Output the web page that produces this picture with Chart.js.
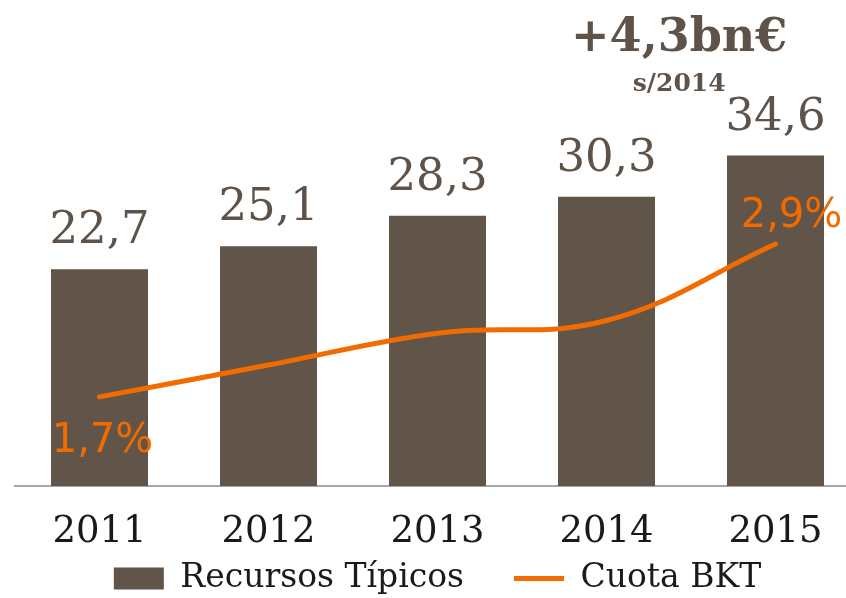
<!DOCTYPE html>
<html>
<head>
<meta charset="utf-8">
<script src="https://cdn.jsdelivr.net/npm/chart.js@4"></script>
<style>
  html, body { margin: 0; padding: 0; background: #fff; overflow: hidden; }
  #wrap { position: absolute; left: 0; top: 0; width: 875px; height: 605px; }
</style>
</head>
<body>
<div id="wrap"><canvas id="chart"></canvas></div>
<script>
// Dados do gráfico
const years = ['2011', '2012', '2013', '2014', '2015'];
const recursos = [22.7, 25.1, 28.3, 30.3, 34.6];   // bn€
const cuota = [1.7, 1.95, 2.2, 2.3, 2.9];         // %
const headline = '+4,3bn€';
const subline = 's/2014';

const brown = '#615449';
const orange = '#f26b00';

function fmt(v) {
    return v.toFixed(1).replace('.', ',');
}

// O eixo x fica baixo para a legenda caber; libera a área dos rótulos
const axisRoom = {
    id: 'axisRoom',
    afterLayout(chart) {
        chart.scales.x.bottom = chart.height;
        chart.scales.x._labelItems = null;
    }
};

// Rótulos dos valores e o destaque no topo
const labelsPlugin = {
    id: 'valueLabels',
    afterDatasetsDraw(chart) {
        const ctx = chart.ctx;
        ctx.save();

        // Barras
        ctx.font = '45px "DejaVu Serif"';
        ctx.fillStyle = '#5f5349';
        ctx.textAlign = 'center';
        ctx.textBaseline = 'alphabetic';
        chart.getDatasetMeta(0).data.forEach((bar, i) => {
            ctx.fillText(fmt(recursos[i]), bar.x, bar.y - 26);
        });

        // Linha: só primeiro e último ponto
        const pts = chart.getDatasetMeta(1).data;
        const last = pts.length - 1;
        ctx.font = '40px "DejaVu Sans"';
        ctx.fillStyle = orange;
        ctx.fillText(fmt(cuota[0]) + '%', pts[0].x + 3, pts[0].y + 55);
        ctx.fillText(fmt(cuota[last]) + '%', pts[last].x + 16, pts[last].y - 17);

        // Destaque
        const x = chart.scales.x;
        const cx = x.getPixelForValue(3) + (x.getPixelForValue(4) - x.getPixelForValue(3)) * 0.43;
        ctx.fillStyle = '#5f5349';
        ctx.font = 'bold 46px "DejaVu Serif"';
        ctx.fillText(headline, cx, 51);
        ctx.font = 'bold 25px "DejaVu Serif"';
        ctx.fillText(subline, cx, 91);
        ctx.restore();
    }
};

const ctx = document.getElementById('chart').getContext('2d');
const chart = new Chart(ctx, {
    data: {
        labels: years,
        datasets: [
            {
                type: 'bar',
                label: 'Recursos Típicos',
                data: recursos,
                backgroundColor: brown,
                borderWidth: 0,
                categoryPercentage: 1,
                barPercentage: 0.574,
                yAxisID: 'y',
                pointStyle: 'rect',
                order: 2
            },
            {
                type: 'line',
                label: 'Cuota BKT',
                data: cuota,
                borderColor: orange,
                backgroundColor: orange,
                borderWidth: 5,
                borderCapStyle: 'round',
                tension: 0.4,
                pointRadius: 0,
                pointStyle: 'line',
                yAxisID: 'y2',
                order: 1
            }
        ]
    },
    options: {
        responsive: true,
        maintainAspectRatio: false,
        animation: false,
        layout: { padding: { left: 15, right: 15, top: 104, bottom: 0 } },
        plugins: {
            tooltip: { enabled: false },
            legend: {
                position: 'bottom',
                labels: {
                    usePointStyle: true,
                    pointStyleWidth: 50,
                    boxHeight: 22,
                    padding: 50,
                    color: '#1a1a1a',
                    font: { family: '"DejaVu Serif"', size: 33 },
                    sort: (a, b) => a.datasetIndex - b.datasetIndex
                }
            }
        },
        scales: {
            x: {
                offset: true,
                grid: { display: false, drawTicks: false },
                border: { display: true, color: '#a6a6a6', width: 2 },
                ticks: {
                    color: '#1a1a1a',
                    padding: 24,
                    font: { family: '"DejaVu Serif"', size: 37 }
                },
                afterFit(scale) { scale.height = 26; }
            },
            y: { display: false, min: 0, max: 40 },
            y2: { display: false, min: 1, max: 4 }
        }
    },
    plugins: [axisRoom, labelsPlugin]
});
</script>
</body>
</html>
